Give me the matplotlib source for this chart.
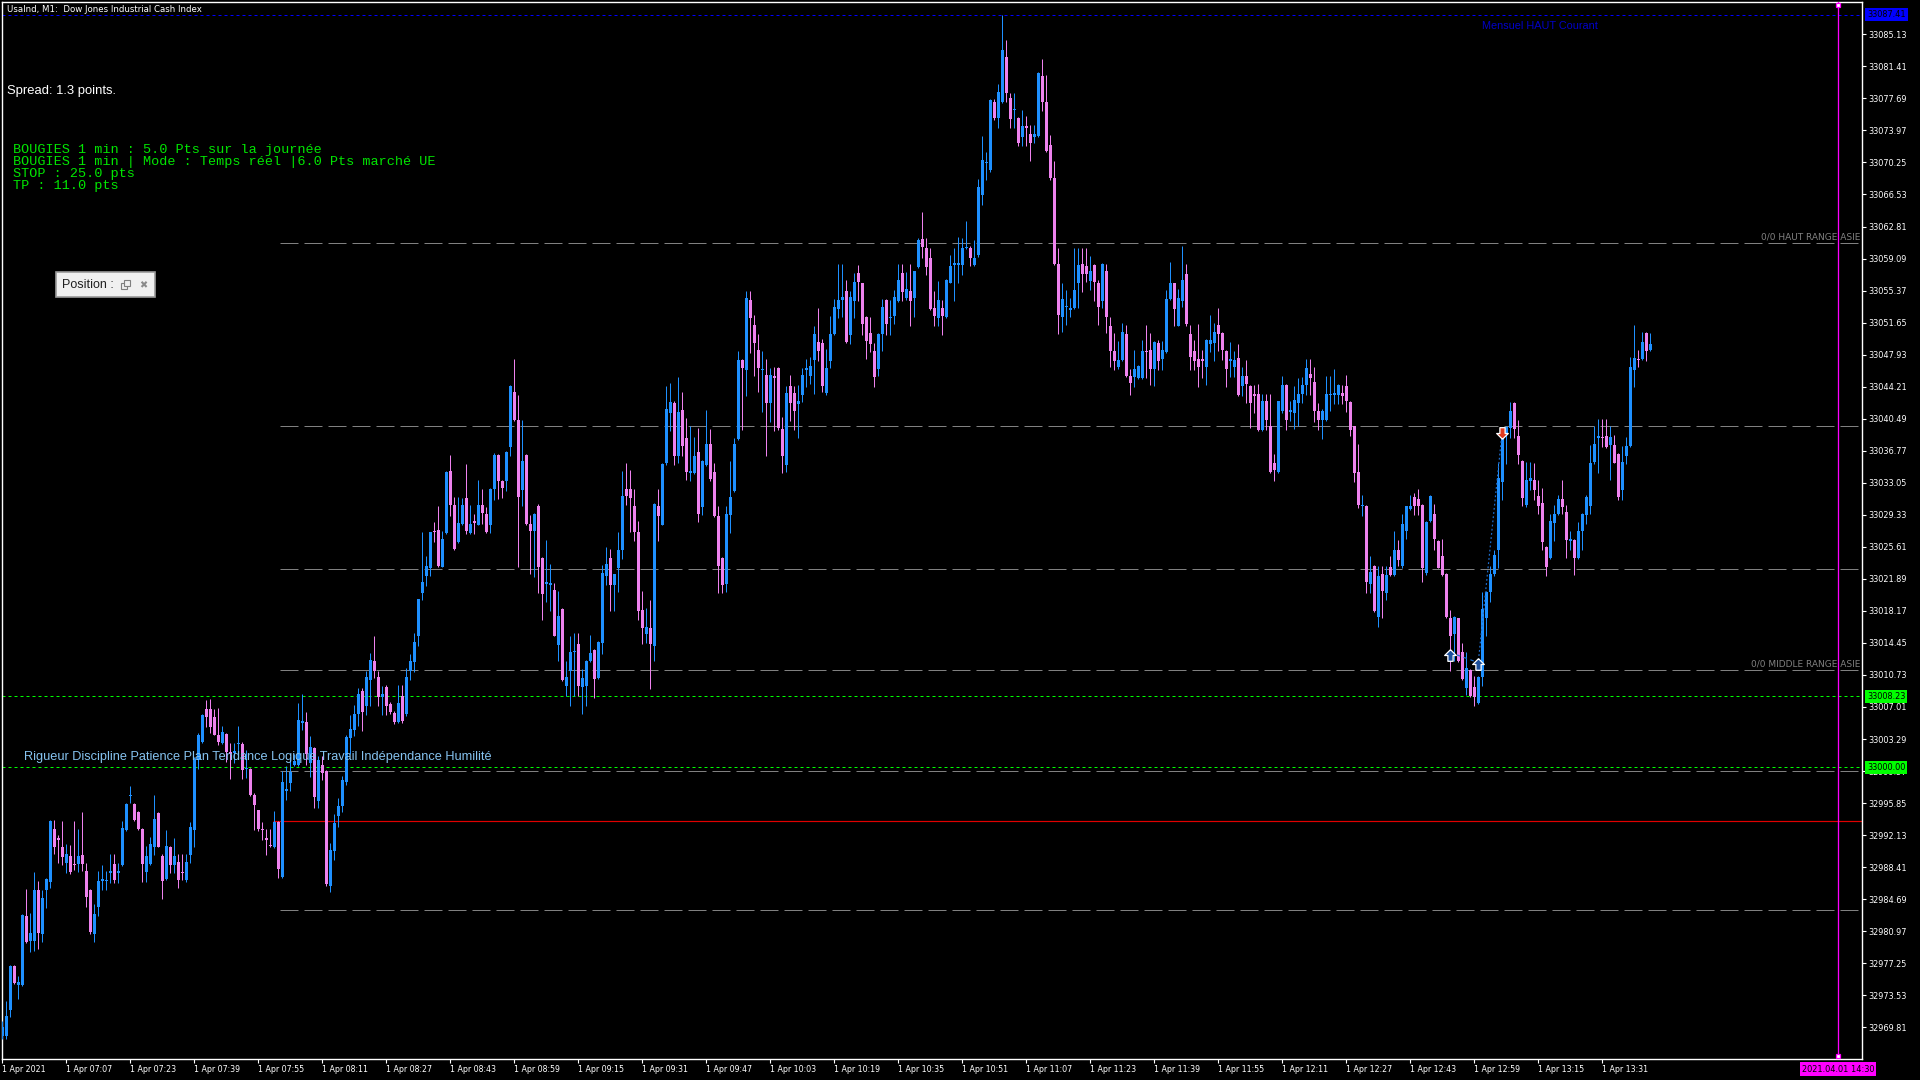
import numpy as np
import matplotlib
matplotlib.use("Agg")
import matplotlib.pyplot as plt
import matplotlib.transforms as mtransforms
from matplotlib.patches import Rectangle

BASE = 33000.0

# UsaInd M1 candles, one per minute from 06:51 to 13:43 (points above 33000)
open_pts = [
    -31.2, -31.2, -28.2, -23.1, -25.3, -25.3, -17.3, -20.2, -20.2, -14.2,
    -19.3, -14.2, -13.3, -7.2, -8.2, -9.2, -11.1, -10.3, -11.2, -11.2,
    -10.2, -12.0, -14.2, -19.3, -16.2, -13.2, -13.2, -12.3, -11.2, -12.3,
    -11.3, -7.3, -3.3, -4.2, -5.2, -7.2, -12.2, -11.2, -9.2, -5.3,
    -10.3, -13.0, -9.2, -11.3, -11.0, -12.2, -13.1, -10.2, -7.3, 0.9,
    2.9, 6.8, 6.8, 5.8, 3.8, 2.8, 3.9, 1.8, 1.7, 2.7,
    2.7, -0.2, -0.2, -3.2, -4.9, -7.2, -8.2, -9.0, -9.3, -6.3,
    -12.7, -2.7, -1.8, 0.3, 0.3, 5.2, 5.3, 0.5, 2.2, -3.9,
    0.3, -0.4, -13.8, -9.7, -5.7, -4.5, -1.7, 3.4, 4.3, 6.2,
    8.9, 7.1, 10.2, 12.4, 10.5, 8.2, 9.3, 7.4, 6.3, 5.3,
    8.3, 6.2, 11.2, 12.2, 15.2, 20.3, 22.2, 23.1, 27.5, 27.6,
    23.3, 27.2, 34.4, 30.5, 26.2, 28.3, 31.3, 27.2, 28.6, 28.2,
    30.5, 29.4, 28.2, 32.3, 36.3, 33.3, 33.2, 37.2, 43.6, 40.3,
    32.2, 36.3, 28.3, 27.4, 30.3, 24.3, 21.3, 21.2, 20.6, 14.2,
    18.4, 9.4, 11.2, 13.4, 14.3, 9.3, 9.5, 12.3, 13.6, 10.4,
    14.4, 22.2, 24.3, 21.2, 23.2, 25.3, 32.3, 32.3, 30.3, 27.3,
    18.3, 15.5, 16.2, 14.1, 30.4, 28.2, 35.3, 41.1, 42.3, 36.2,
    41.5, 38.3, 34.2, 34.2, 36.6, 30.2, 35.1, 37.5, 34.3, 29.2,
    24.3, 21.3, 29.3, 32.1, 38.1, 47.3, 46.1, 54.3, 51.4, 48.5,
    46.2, 45.6, 42.3, 45.4, 46.4, 39.3, 35.1, 44.3, 43.5, 42.2,
    43.3, 46.2, 45.5, 47.3, 49.4, 49.3, 43.5, 47.2, 50.3, 53.2,
    54.3, 55.3, 50.2, 54.2, 57.4, 56.2, 52.3, 50.4, 48.4, 46.3,
    50.3, 54.3, 52.2, 52.4, 54.2, 57.4, 54.5, 55.3, 54.5, 58.1,
    61.4, 60.3, 59.2, 53.3, 52.2, 53.3, 52.3, 56.3, 58.3, 58.3,
    58.3, 60.3, 60.3, 58.3, 59.5, 66.5, 70.2, 69.4, 77.3, 75.4,
    77.3, 82.5, 77.7, 76.3, 75.4, 73.2, 74.5, 73.5, 73.2, 73.3,
    80.3, 77.3, 72.3, 68.5, 58.4, 52.3, 53.5, 53.1, 53.3, 56.3,
    58.5, 58.2, 56.5, 58.3, 56.3, 54.2, 57.7, 51.3, 48.4, 46.5,
    47.3, 50.3, 45.4, 45.3, 45.2, 45.2, 48.4, 48.5, 46.3, 49.3,
    47.4, 48.2, 54.4, 56.2, 51.3, 54.2, 57.3, 50.3, 48.3, 47.4,
    47.4, 46.5, 49.2, 49.3, 51.4, 50.5, 48.4, 47.2, 46.5, 47.5,
    44.3, 45.4, 44.3, 43.4, 43.4, 39.2, 42.5, 39.6, 35.3, 34.3,
    41.4, 44.4, 41.3, 41.2, 42.3, 43.4, 44.4, 45.7, 44.7, 41.4,
    40.3, 40.3, 43.2, 43.3, 43.2, 43.5, 44.3, 42.4, 39.6, 34.3,
    30.3, 30.4, 21.3, 23.4, 17.5, 22.5, 20.3, 23.3, 22.3, 25.3,
    23.4, 27.4, 30.0, 31.4, 31.2, 30.5, 22.6, 28.6, 29.4, 26.3,
    24.5, 22.5, 17.3, 15.5, 17.3, 13.4, 9.2, 11.3, 9.3, 7.5,
    10.5, 17.4, 20.4, 22.5, 25.2, 33.1, 38.7, 39.4, 42.3, 38.5,
    35.6, 30.5, 33.3, 33.4, 31.5, 30.7, 25.6, 24.3, 28.4, 29.4,
    31.2, 29.7, 26.3, 26.4, 24.3, 27.4, 29.3, 30.4, 35.5, 38.2,
    38.4, 38.5, 37.4, 37.4, 36.4, 32.2, 36.2, 37.3, 46.2, 47.4,
    47.4, 50.4, 48.5,
]
high_pts = [
    -29.5, -27.1, -22.9, -22.9, -24.2, -17.0, -14.1, -16.9, -12.2, -13.2,
    -14.2, -12.9, -6.1, -6.1, -7.8, -6.2, -8.9, -9.0, -6.2, -7.2,
    -5.2, -11.1, -14.1, -15.9, -12.0, -11.3, -12.0, -10.1, -10.1, -11.1,
    -6.2, -4.1, -2.2, -4.1, -5.1, -7.1, -9.1, -8.1, -3.2, -5.2,
    -10.1, -7.3, -9.1, -8.2, -10.1, -10.1, -10.1, -6.3, 1.2, 4.0,
    6.2, 7.8, 7.9, 6.8, 6.9, 4.8, 4.0, 2.8, 2.8, 4.8,
    3.0, 2.0, -0.1, -3.0, -4.9, -6.3, -7.2, -7.2, -5.1, -6.2,
    -0.4, 0.2, 1.2, 1.6, 7.5, 8.5, 6.4, 3.6, 2.4, 1.3,
    1.3, -0.3, -8.8, -5.4, -3.6, -1.0, 3.8, 6.1, 7.2, 9.2,
    9.2, 11.2, 13.3, 15.3, 11.2, 9.5, 9.6, 7.6, 6.5, 9.6,
    9.6, 11.5, 13.2, 15.6, 19.5, 27.3, 24.5, 27.3, 28.5, 30.4,
    27.4, 34.4, 36.3, 31.4, 31.4, 31.3, 35.2, 30.5, 29.4, 33.4,
    32.3, 30.2, 32.5, 36.5, 36.4, 33.4, 36.7, 44.4, 47.4, 43.2,
    40.3, 36.4, 29.3, 29.5, 30.6, 24.4, 26.4, 23.6, 21.4, 20.5,
    18.5, 12.4, 15.3, 15.6, 15.6, 11.4, 12.5, 15.4, 13.7, 14.7,
    23.5, 25.6, 25.4, 22.5, 27.3, 34.4, 35.3, 34.5, 32.3, 28.6,
    20.5, 18.5, 19.4, 30.7, 32.3, 35.4, 44.3, 44.6, 42.6, 45.3,
    43.6, 40.6, 39.6, 38.4, 39.4, 35.7, 41.5, 39.3, 35.3, 30.3,
    24.4, 30.3, 35.6, 38.3, 48.4, 47.4, 55.3, 55.3, 52.5, 50.3,
    48.4, 47.4, 46.4, 46.5, 46.5, 40.7, 44.3, 45.6, 44.3, 44.4,
    46.4, 47.4, 47.6, 51.2, 53.3, 49.7, 48.6, 52.4, 54.4, 58.4,
    58.4, 56.6, 55.3, 57.4, 58.3, 56.3, 52.4, 52.3, 49.3, 50.4,
    54.4, 54.4, 54.3, 55.4, 58.4, 58.4, 57.5, 58.4, 57.7, 61.5,
    64.5, 61.5, 60.3, 55.3, 56.5, 54.3, 56.7, 59.5, 60.3, 61.6,
    61.5, 63.4, 60.6, 61.3, 68.3, 73.3, 71.5, 77.6, 77.6, 79.4,
    87.4, 84.5, 78.3, 78.3, 75.5, 76.3, 75.6, 74.6, 74.6, 80.7,
    82.3, 80.4, 73.4, 70.4, 60.3, 56.3, 55.4, 54.5, 60.3, 60.3,
    60.3, 60.3, 59.4, 58.4, 56.6, 58.6, 58.5, 52.3, 50.4, 49.5,
    51.6, 51.4, 46.3, 48.5, 46.7, 49.6, 51.4, 50.4, 49.5, 49.6,
    49.5, 55.4, 58.7, 56.3, 55.5, 60.5, 58.5, 51.4, 49.6, 51.5,
    48.5, 49.7, 52.5, 51.6, 53.3, 50.6, 48.5, 49.4, 48.4, 49.2,
    46.5, 47.3, 44.4, 44.4, 44.5, 43.4, 43.4, 43.4, 36.4, 42.6,
    45.4, 44.5, 42.5, 44.3, 45.2, 45.3, 47.4, 47.4, 46.5, 42.3,
    41.6, 45.4, 45.4, 46.3, 44.5, 44.4, 45.6, 42.5, 39.7, 37.5,
    31.6, 30.5, 24.5, 23.5, 23.4, 23.4, 23.4, 24.5, 27.4, 26.4,
    29.4, 30.4, 31.6, 31.9, 32.3, 30.6, 28.6, 31.6, 30.6, 26.4,
    26.5, 22.6, 18.3, 17.6, 17.4, 14.5, 13.4, 11.4, 10.6, 10.6,
    20.4, 20.5, 23.4, 25.2, 35.4, 38.6, 39.6, 42.4, 42.4, 40.3,
    35.7, 35.5, 35.5, 35.4, 33.4, 32.4, 25.7, 29.4, 30.5, 31.6,
    33.4, 30.5, 27.4, 26.5, 28.5, 29.5, 31.6, 37.4, 39.6, 40.4,
    40.5, 40.5, 39.6, 38.6, 36.5, 37.3, 38.4, 47.7, 51.4, 48.5,
    50.6, 50.6, 50.4,
]
low_pts = [
    -31.6, -31.5, -29.0, -25.2, -26.9, -25.4, -20.4, -21.4, -21.3, -21.1,
    -20.3, -16.3, -14.0, -10.1, -11.1, -11.3, -12.3, -12.4, -11.9, -12.2,
    -12.0, -16.2, -19.3, -20.3, -17.3, -14.2, -14.3, -13.4, -13.4, -13.4,
    -11.4, -7.4, -4.1, -6.2, -7.3, -13.3, -13.3, -11.3, -10.2, -9.3,
    -15.3, -13.1, -12.3, -12.3, -14.0, -13.1, -13.3, -11.1, -9.2, -0.2,
    2.8, 4.7, 4.0, 3.7, 2.6, 2.7, 0.6, -1.3, 0.5, 1.6,
    -1.3, -1.2, -3.3, -7.3, -7.4, -8.4, -10.2, -9.3, -9.4, -12.9,
    -12.9, -3.8, -2.8, 0.2, 0.2, 4.3, 0.3, -1.1, -4.7, -4.7,
    -1.5, -13.8, -14.5, -10.8, -6.9, -5.2, -2.0, 1.6, 3.6, 4.8,
    4.2, 6.1, 7.1, 10.4, 7.1, 6.1, 6.1, 6.2, 5.0, 5.1,
    5.2, 6.0, 10.2, 11.1, 14.1, 19.4, 21.1, 22.2, 26.2, 23.3,
    23.3, 27.1, 29.2, 25.2, 26.1, 28.2, 27.1, 27.1, 27.1, 28.1,
    28.3, 27.2, 27.2, 31.1, 31.2, 31.3, 32.1, 36.2, 40.2, 23.3,
    30.3, 28.2, 22.4, 22.1, 20.2, 17.1, 19.2, 18.2, 15.2, 12.3,
    10.0, 8.3, 7.1, 8.3, 8.3, 6.2, 7.1, 12.2, 8.0, 10.3,
    13.2, 21.2, 18.2, 18.2, 20.4, 24.2, 30.5, 27.3, 26.3, 17.1,
    14.3, 14.5, 9.1, 12.3, 26.3, 28.1, 35.1, 39.1, 35.1, 35.3,
    36.2, 33.4, 33.3, 34.1, 28.5, 29.3, 35.0, 33.2, 29.1, 20.3,
    20.2, 20.4, 27.2, 32.0, 38.0, 39.2, 43.1, 48.1, 45.4, 43.6,
    41.3, 36.2, 40.1, 39.1, 39.2, 34.2, 34.3, 40.2, 39.2, 38.3,
    42.4, 44.2, 44.5, 43.4, 47.2, 43.6, 43.2, 46.4, 50.2, 52.2,
    52.3, 49.3, 49.2, 52.2, 54.2, 50.2, 47.4, 48.2, 44.2, 45.5,
    48.3, 50.2, 50.2, 51.5, 54.1, 54.2, 54.3, 51.2, 52.3, 58.0,
    59.2, 57.2, 53.1, 51.2, 51.2, 50.2, 52.2, 56.2, 54.2, 56.2,
    57.2, 60.2, 58.2, 58.2, 59.3, 65.3, 68.2, 69.1, 75.2, 74.2,
    77.2, 77.3, 74.2, 74.2, 72.2, 72.2, 72.2, 70.4, 72.5, 73.2,
    76.2, 71.5, 68.2, 58.3, 50.3, 50.6, 51.4, 52.3, 53.2, 53.3,
    55.2, 56.4, 55.4, 54.2, 51.4, 53.3, 50.4, 46.5, 46.2, 46.3,
    47.2, 45.3, 43.3, 44.2, 45.1, 45.1, 45.2, 44.4, 44.3, 46.2,
    46.1, 48.1, 54.3, 51.3, 51.2, 53.5, 51.2, 46.2, 46.2, 44.2,
    45.2, 44.4, 48.2, 47.2, 48.3, 47.3, 44.2, 45.3, 45.3, 43.1,
    43.1, 42.3, 39.4, 41.1, 39.1, 39.1, 39.2, 34.2, 33.2, 34.2,
    41.2, 39.2, 40.2, 39.3, 39.6, 42.3, 43.2, 43.2, 40.1, 39.2,
    38.1, 40.2, 41.4, 42.2, 42.2, 42.2, 41.3, 38.5, 33.1, 30.1,
    29.2, 20.3, 20.2, 18.1, 16.3, 17.3, 19.4, 22.2, 22.2, 23.4,
    23.2, 26.5, 29.9, 29.3, 29.3, 21.5, 22.3, 28.5, 25.2, 23.1,
    22.2, 17.3, 11.2, 12.3, 12.2, 10.2, 8.4, 8.2, 7.1, 7.4,
    9.4, 15.2, 19.2, 22.2, 23.1, 31.1, 35.2, 38.3, 38.2, 35.2,
    30.3, 30.2, 32.2, 31.1, 29.4, 25.3, 22.2, 24.2, 26.3, 29.3,
    29.4, 24.3, 25.2, 22.3, 24.2, 25.3, 28.3, 29.4, 35.2, 34.2,
    37.2, 37.1, 33.4, 35.3, 31.1, 31.1, 35.2, 37.2, 44.2, 46.5,
    47.3, 47.2, 48.4,
]
close_pts = [
    -30.1, -28.9, -23.1, -25.1, -24.9, -17.1, -20.3, -19.2, -14.3, -19.2,
    -15.2, -13.0, -6.2, -9.2, -8.4, -10.4, -10.1, -12.2, -11.3, -10.3,
    -11.2, -15.0, -19.1, -17.0, -13.2, -13.0, -13.1, -12.0, -13.1, -12.0,
    -7.0, -4.2, -3.2, -6.1, -7.2, -11.2, -10.3, -8.9, -6.0, -9.2,
    -13.2, -9.1, -11.3, -10.3, -13.1, -12.3, -11.0, -6.9, 1.0, 3.8,
    6.1, 5.9, 4.7, 3.8, 2.9, 4.1, 1.8, 1.6, 1.9, 2.8,
    -0.3, -0.1, -3.2, -4.4, -7.2, -7.3, -8.4, -9.1, -6.3, -11.8,
    -1.7, -2.5, -0.5, 0.7, 5.5, 5.4, 1.6, 2.4, -3.5, 0.8,
    -0.7, -13.6, -9.6, -6.5, -4.5, -1.5, 3.5, 4.5, 6.2, 8.5,
    6.4, 10.5, 12.5, 11.2, 8.2, 8.5, 7.1, 6.4, 5.3, 7.5,
    5.4, 10.5, 12.3, 14.6, 19.5, 21.5, 23.4, 27.3, 27.3, 23.4,
    26.5, 34.3, 30.5, 25.4, 28.4, 30.5, 27.5, 28.3, 28.4, 30.5,
    29.5, 27.3, 32.3, 36.3, 33.2, 32.4, 36.6, 44.3, 40.3, 31.4,
    35.6, 28.3, 27.5, 29.4, 23.3, 20.1, 21.5, 21.4, 15.3, 17.6,
    10.1, 10.5, 13.4, 13.5, 9.5, 10.4, 12.4, 13.3, 10.3, 14.6,
    22.6, 23.6, 21.2, 22.4, 25.2, 31.5, 31.5, 31.3, 27.3, 18.2,
    16.2, 16.3, 14.3, 30.6, 29.2, 35.2, 41.6, 42.4, 36.2, 41.3,
    37.3, 34.3, 34.4, 36.2, 29.4, 35.6, 37.5, 33.5, 29.2, 23.4,
    21.2, 29.4, 31.4, 37.5, 47.3, 46.4, 54.5, 52.2, 49.3, 46.4,
    46.3, 42.3, 45.6, 45.2, 39.4, 36.2, 43.5, 42.3, 41.4, 42.5,
    45.6, 46.4, 46.6, 50.3, 48.4, 44.3, 46.4, 50.3, 53.5, 54.3,
    54.6, 49.4, 54.6, 56.4, 56.4, 51.5, 49.5, 49.2, 45.3, 50.3,
    53.5, 51.5, 52.3, 54.6, 56.6, 55.2, 55.5, 54.2, 57.6, 61.2,
    60.4, 58.1, 53.2, 52.4, 54.3, 52.4, 56.6, 58.2, 58.6, 58.6,
    60.3, 60.4, 59.2, 59.2, 67.4, 70.5, 70.3, 77.5, 75.4, 78.4,
    83.3, 78.3, 75.3, 76.4, 72.5, 74.5, 74.2, 72.5, 73.5, 80.6,
    77.3, 71.6, 68.5, 58.5, 52.5, 54.4, 53.6, 53.4, 55.4, 58.3,
    57.3, 57.3, 57.6, 56.4, 53.5, 58.5, 52.3, 48.3, 47.2, 47.3,
    50.6, 45.4, 44.6, 46.3, 46.6, 48.3, 48.2, 46.3, 49.4, 47.2,
    48.5, 54.4, 56.2, 53.2, 54.5, 56.6, 51.5, 47.6, 47.2, 46.5,
    47.2, 49.6, 49.6, 50.6, 50.3, 48.5, 46.3, 47.4, 47.3, 43.3,
    45.5, 44.5, 42.3, 43.1, 39.2, 42.5, 40.3, 34.3, 34.5, 42.5,
    44.4, 40.3, 41.5, 42.7, 43.4, 44.4, 46.4, 45.2, 41.4, 40.3,
    41.4, 43.4, 43.4, 43.5, 44.4, 43.1, 42.6, 39.2, 34.2, 30.5,
    30.5, 21.5, 22.7, 18.2, 22.2, 20.5, 22.3, 22.3, 25.2, 24.1,
    28.3, 30.3, 30.3, 30.4, 30.4, 23.2, 28.5, 31.5, 26.5, 23.2,
    22.3, 17.5, 15.2, 17.5, 12.3, 10.3, 11.5, 8.3, 8.2, 10.5,
    18.4, 20.4, 22.5, 24.7, 33.6, 38.5, 39.5, 41.4, 39.3, 36.3,
    31.3, 33.4, 33.6, 32.2, 30.3, 26.2, 23.3, 28.6, 29.4, 31.2,
    30.2, 26.4, 26.5, 24.3, 27.5, 29.4, 31.4, 35.3, 37.5, 38.5,
    38.3, 37.2, 38.4, 35.4, 31.4, 35.5, 37.3, 46.5, 47.5, 47.3,
    49.4, 48.3, 49.2,
]

opens = BASE + np.array(open_pts)
highs = BASE + np.array(high_pts)
lows = BASE + np.array(low_pts)
closes = BASE + np.array(close_pts)
minutes = np.arange(len(close_pts))   # minutes after 06:51

xtick_pos = [0, 16, 32, 48, 64, 80, 96, 112, 128, 144, 160, 176, 192,
             208, 224, 240, 256, 272, 288, 304, 320, 336, 352, 368, 384, 400]
xtick_labels = ["1 Apr 2021", "1 Apr 07:07", "1 Apr 07:23", "1 Apr 07:39",
                "1 Apr 07:55", "1 Apr 08:11", "1 Apr 08:27", "1 Apr 08:43",
                "1 Apr 08:59", "1 Apr 09:15", "1 Apr 09:31", "1 Apr 09:47",
                "1 Apr 10:03", "1 Apr 10:19", "1 Apr 10:35", "1 Apr 10:51",
                "1 Apr 11:07", "1 Apr 11:23", "1 Apr 11:39", "1 Apr 11:55",
                "1 Apr 12:11", "1 Apr 12:27", "1 Apr 12:43", "1 Apr 12:59",
                "1 Apr 13:15", "1 Apr 13:31"]
ytick_vals = [32969.81, 32973.53, 32977.25, 32980.97, 32984.69, 32988.41,
              32992.13, 32995.85, 32999.57, 33003.29, 33007.01, 33010.73,
              33014.45, 33018.17, 33021.89, 33025.61, 33029.33, 33033.05,
              33036.77, 33040.49, 33044.21, 33047.93, 33051.65, 33055.37,
              33059.09, 33062.81, 33066.53, 33070.25, 33073.97, 33077.69,
              33081.41, 33085.13]

# levels drawn on the chart
monthly_high = 33087.41
green_levels = [33008.23, 33000.00]
range_levels = [33060.86, 33039.64, 33023.00, 33011.27, 32999.54, 32983.40]
range_labels = ["0/0 HAUT RANGE ASIE", "", "", "0/0 MIDDLE RANGE ASIE", "", ""]
stop_level = 32993.73
now_minute = 459          # 14:30
buy_minutes = [362, 369]
buy_prices = [33013.05, 33011.97]
sell_minutes = [375]
sell_prices = [33038.87]

W, H = 1920, 1080
def fx(px):
    return px / W
def fy(py):
    return 1 - py / H

PX = 0.72  # one pixel in points
bull, bear = '#1e90ff', '#ee82ee'

fig = plt.figure(figsize=(19.2, 10.8), dpi=100, facecolor='black')
left, right, top, bottom = 2.3, 1862, 2.3, 1059
ax = fig.add_axes([fx(left), fy(bottom), (right - left) / W, (bottom - top) / H])
ax.set_facecolor('black')
ax.set_xlim(0, 465)
ax.set_ylim(32966.13, 33088.85)
for s in ax.spines.values():
    s.set_color('white')
    s.set_linewidth(1.0)

# candles
colors = np.where(closes >= opens, bull, bear)
ax.vlines(minutes, lows, highs, colors=colors, linewidth=PX, zorder=3)
body_lo = np.minimum(opens, closes)
body_h = np.maximum(np.abs(closes - opens), 0.12)
ax.bar(minutes, body_h, bottom=body_lo, width=0.75, color=colors,
       linewidth=0, zorder=4)

# horizontal levels
ax.axhline(monthly_high, color='#0000ff', lw=PX, ls=(0, (3, 3)), zorder=2)
for lv in green_levels:
    ax.axhline(lv, color='#00ff00', lw=PX, ls=(0, (3, 3)), zorder=2)
for lv, lab in zip(range_levels, range_labels):
    ax.hlines(lv, 69.5, 465, color='#808080', lw=PX, ls=(0, (18, 6)), zorder=2)
    if lab:
        ax.text(464.5, lv + 0.25, lab, color='#808080', fontsize=6.5,
                ha='right', va='bottom', zorder=5)
ax.hlines(stop_level, 67.8, 465, color='#e00000', lw=PX * 1.2, zorder=2)
ax.text(370, monthly_high - 0.7, "Mensuel HAUT Courant", color='#0000c8',
        fontsize=7.8, family='Liberation Sans', ha='left', va='top', zorder=5)

# current time marker
ax.axvline(now_minute, color='#ff00ff', lw=PX * 1.3, zorder=5)
ax.plot([now_minute, now_minute], [33088.5, 32966.45], ls='none', marker='s',
        ms=3.2, mfc='white', mec='#ff00ff', mew=0.9, zorder=6, clip_on=False)

# trades
up_arrow = [(0, 1), (1, 0), (0.45, 0), (0.45, -1), (-0.45, -1), (-0.45, 0), (-1, 0), (0, 1)]
down_arrow = [(x, -y) for x, y in up_arrow]
ax.plot([buy_minutes[0], buy_minutes[1]], [buy_prices[0] + 0.3, buy_prices[1] + 0.2],
        color='#1e6fd0', lw=PX * 1.2, ls=(0, (3, 3)), zorder=5)
ax.plot([buy_minutes[1], sell_minutes[0]], [buy_prices[1], sell_prices[0]],
        color='#1e6fd0', lw=PX * 1.2, ls=(0, (1.5, 2)), zorder=5)
ax.scatter(buy_minutes, buy_prices, marker=up_arrow, s=70, c='#1c4f9c',
           edgecolors='white', linewidths=0.9, zorder=7)
ax.scatter(sell_minutes, sell_prices, marker=down_arrow, s=70, c='#e03a1e',
           edgecolors='white', linewidths=0.9, zorder=7)

# axes ticks
ax.yaxis.tick_right()
ax.set_yticks(ytick_vals)
ax.set_yticklabels(['%.2f' % v for v in ytick_vals])
ax.tick_params(axis='y', colors='white', length=3, width=0.8, labelsize=5.9, pad=1.5)
ax.set_xticks(xtick_pos)
ax.set_xticklabels(xtick_labels)
ax.tick_params(axis='x', colors='white', length=3, width=0.8, labelsize=5.7, pad=1)
for lbl in ax.get_xticklabels():
    lbl.set_ha('left')

# price tags on the axis
tr = mtransforms.blended_transform_factory(fig.transFigure, ax.transData)
fig.text(fx(1867), monthly_high, '%.2f' % monthly_high, transform=tr, fontsize=5.9,
         color='black', va='center', ha='left', zorder=10,
         bbox=dict(boxstyle='square,pad=0.25', fc='#0000ff', ec='none'))
for lv in green_levels:
    fig.text(fx(1867), lv, '%.2f' % lv, transform=tr, fontsize=5.9, color='black',
             va='center', ha='left', zorder=10,
             bbox=dict(boxstyle='square,pad=0.25', fc='#00ff00', ec='none'))
trx = mtransforms.blended_transform_factory(ax.transData, fig.transFigure)
fig.text(now_minute, fy(1069), '2021.04.01 14:30', transform=trx, fontsize=5.9,
         color='black', ha='center', va='center', zorder=10,
         bbox=dict(boxstyle='square,pad=0.25', fc='#ff00ff', ec='none'))

# overlay texts
fig.text(fx(7), fy(9), "UsaInd, M1:  Dow Jones Industrial Cash Index", color='white',
         fontsize=6.2, va='center', ha='left')
fig.text(fx(7), fy(91), "Spread: 1.3 points.", color='white', fontsize=9.4,
         family='Liberation Sans', va='center', ha='left')
info_lines = ["BOUGIES 1 min : 5.0 Pts sur la journée",
              "BOUGIES 1 min | Mode : Temps réel |6.0 Pts marché UE",
              "STOP : 25.0 pts",
              "TP : 11.0 pts"]
for i, line in enumerate(info_lines):
    fig.text(fx(13), fy(150 + 12 * i), line, color='#00e600', fontsize=9.7,
             family='Liberation Mono', va='center', ha='left')
fig.text(fx(24), fy(757), "Rigueur Discipline Patience Plan Tendance Logique Travail "
         "Indépendance Humilité", color='#86c3f0', fontsize=9.2,
         family='Liberation Sans', va='center', ha='left', zorder=8)

# small "Position" panel
fig.patches.append(Rectangle((fx(56), fy(297)), 99 / W, 25 / H, transform=fig.transFigure,
                             fc='#f0f0f0', ec='#9a9a9a', lw=1.2, zorder=9))
fig.text(fx(62), fy(285), "Position :", color='#202020', fontsize=9.0,
         family='Liberation Sans', va='center', ha='left', zorder=10)
fig.patches.append(Rectangle((fx(121), fy(289)), 6 / W, 6 / H, transform=fig.transFigure,
                             fc='none', ec='#808080', lw=0.8, zorder=10))
fig.patches.append(Rectangle((fx(124), fy(286)), 6 / W, 6 / H, transform=fig.transFigure,
                             fc='#f0f0f0', ec='#808080', lw=0.8, zorder=10))
fig.text(fx(143), fy(285), "\u2716", color='#8a8a8a', fontsize=7,
         va='center', ha='center', zorder=10)

fig.savefig('out.png', dpi=100, facecolor='black')
